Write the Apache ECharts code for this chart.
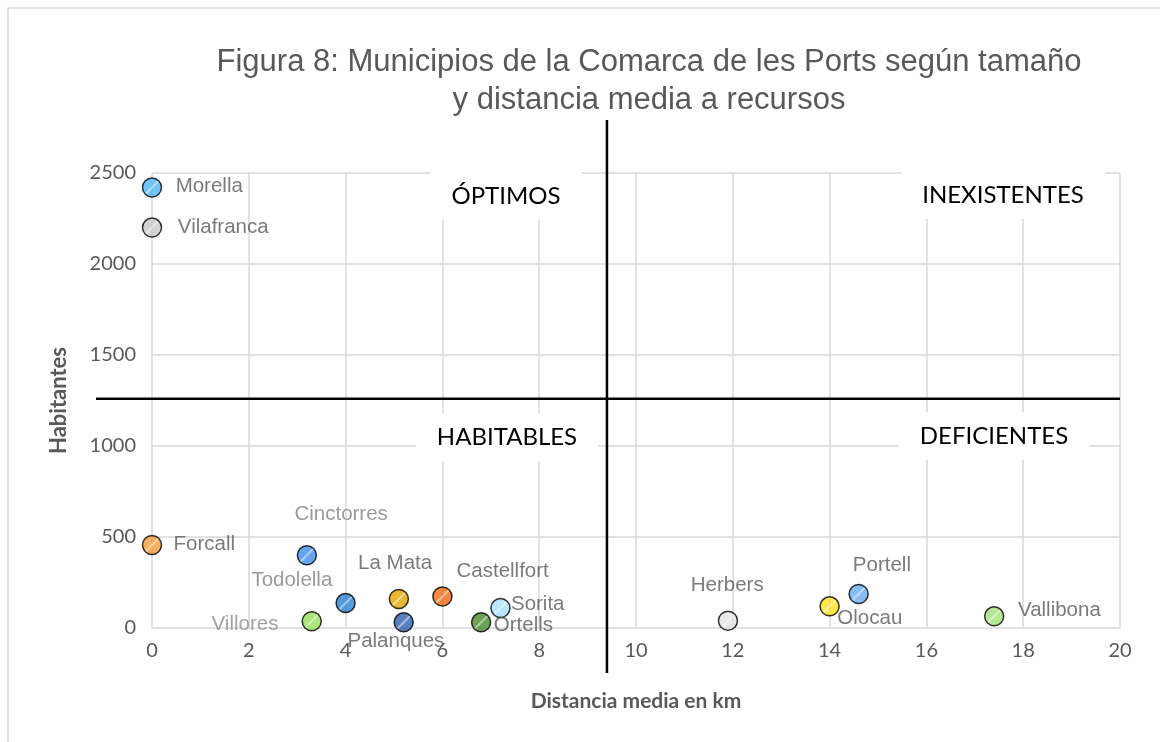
<!DOCTYPE html>
<html>
<head>
<meta charset="utf-8">
<title>Figura 8</title>
<script src="https://cdn.jsdelivr.net/npm/echarts@6.0.0/dist/echarts.min.js"></script>
<style>
  html, body { margin: 0; padding: 0; background: #fff; }
  #main { width: 1160px; height: 742px; }
</style>
</head>
<body>
<div id="main"></div>
<script>
// datos de los municipios
var municipios = ['Morella', 'Vilafranca', 'Forcall', 'Cinctorres', 'Todolella', 'Villores', 'La Mata',
    'Palanques', 'Castellfort', 'Ortells', 'Sorita', 'Herbers', 'Olocau', 'Portell', 'Vallibona'];
var distancia = [0, 0, 0, 3.2, 4.0, 3.3, 5.1, 5.2, 6.0, 6.8, 7.2, 11.9, 14.0, 14.6, 17.4];
var habitantes = [2420, 2200, 456, 400, 137, 37, 159, 31, 173, 31, 110, 40, 119, 187, 64];

// umbrales que separan los cuadrantes
var umbralX = 9.4;
var umbralY = 1260;

// estilos (colores y posicion de etiquetas)
var colores = ['#4db8f5', '#c8c8c8', '#f59a3c', '#3d8fea', '#2a80d0', '#95e05a', '#e2a600',
    '#2c5fac', '#ee6a12', '#4d8a2e', '#a8e0ff', '#e2e2e2', '#ffe020', '#6aacf0', '#a5e07a'];
var desplaz = [[58, 0], [72, 0], [53, 0], [35, -40], [-53, -22], [-66, 4], [-3, -35],
    [-7, 20], [61, -24], [43, 4], [38, -3], [0, -35], [41, 13], [24, -28], [66, -5]];
var colorEtiq = ['#595959', '#595959', '#595959', '#7f7f7f', '#7f7f7f', '#8c8c8c', '#595959',
    '#595959', '#595959', '#595959', '#595959', '#595959', '#595959', '#595959', '#595959'];

function aclarar(hex, f) {
    var r = parseInt(hex.substr(1, 2), 16), g = parseInt(hex.substr(3, 2), 16), b = parseInt(hex.substr(5, 2), 16);
    r = Math.round(r + (255 - r) * f); g = Math.round(g + (255 - g) * f); b = Math.round(b + (255 - b) * f);
    return 'rgb(' + r + ',' + g + ',' + b + ')';
}

var tam = 19;
var puntos = [];
for (var i = 0; i < municipios.length; i++) {
    puntos.push({
        name: municipios[i],
        value: [distancia[i], habitantes[i]],
        itemStyle: {
            color: new echarts.graphic.LinearGradient(0, 0, 1, 1, [
                { offset: 0, color: colores[i] },
                { offset: 0.44, color: colores[i] },
                { offset: 0.5, color: aclarar(colores[i], 0.55) },
                { offset: 0.56, color: colores[i] },
                { offset: 1, color: colores[i] }
            ])
        },
        label: {
            position: [tam / 2 + desplaz[i][0], tam / 2 + desplaz[i][1]],
            color: colorEtiq[i]
        }
    });
}

var myChart = echarts.init(document.getElementById('main'));
myChart.setOption({
    animation: false,
    title: {
        text: 'Figura 8: Municipios de la Comarca de les Ports según tamaño\ny distancia media a recursos',
        left: 644,
        top: 38,
        textAlign: 'center',
        textStyle: {
            fontFamily: 'Liberation Sans',
            fontSize: 31,
            fontWeight: 'normal',
            color: '#595959',
            lineHeight: 38
        }
    },
    grid: { left: 152, right: 40, top: 173, bottom: 114 },
    xAxis: {
        type: 'value',
        min: 0, max: 20, interval: 2,
        name: 'Distancia media en km',
        nameLocation: 'middle',
        nameGap: 63,
        nameTextStyle: { fontFamily: 'Lato', fontWeight: 'bold', fontSize: 21, color: '#595959' },
        axisLine: { show: false },
        axisTick: { show: false },
        axisLabel: { margin: 13, fontFamily: 'Lato', fontSize: 20, color: '#595959' },
        splitLine: { lineStyle: { color: '#d9d9d9', width: 1.5 } }
    },
    yAxis: {
        type: 'value',
        min: 0, max: 2500, interval: 500,
        name: 'Habitantes',
        nameLocation: 'middle',
        nameGap: 82,
        nameTextStyle: { fontFamily: 'Lato', fontWeight: 'bold', fontSize: 22, color: '#595959' },
        axisLine: { show: false },
        axisTick: { show: false },
        axisLabel: {
            margin: 16, fontFamily: 'Lato', fontSize: 20, color: '#595959',
            formatter: function (v) { return String(v); }
        },
        splitLine: { lineStyle: { color: '#d9d9d9', width: 1.5 } }
    },
    series: [{
        type: 'scatter',
        symbol: 'circle',
        symbolSize: tam,
        z: 5,
        itemStyle: { borderColor: '#000', borderWidth: 1.5 },
        label: {
            show: true,
            formatter: '{b}',
            align: 'center',
            verticalAlign: 'middle',
            fontFamily: 'Liberation Sans',
            fontSize: 20.5
        },
        data: puntos
    }]
});

// lineas de cuadrantes y rotulos
var px = myChart.convertToPixel({ gridIndex: 0 }, [umbralX, umbralY]);
var rotulo = function (texto, x, y) {
    return {
        type: 'text', x: x, y: y, z: 10,
        style: {
            text: texto, align: 'center', verticalAlign: 'middle',
            font: '24px Lato', fill: '#000',
            backgroundColor: '#fff', padding: [12, 21]
        }
    };
};
myChart.setOption({
    graphic: [
        { type: 'rect', shape: { x: 8, y: 8, width: 1200, height: 800 }, style: { fill: 'none', stroke: '#d9d9d9', lineWidth: 1.5 }, z: 1 },
        rotulo('ÓPTIMOS', 506, 196),
        rotulo('INEXISTENTES', 1003, 195),
        rotulo('HABITABLES', 507, 437),
        rotulo('DEFICIENTES', 994, 436),
        { type: 'line', z: 20, shape: { x1: px[0], y1: 120, x2: px[0], y2: 673 }, style: { stroke: '#000', lineWidth: 2.5 } },
        { type: 'line', z: 20, shape: { x1: 96, y1: px[1], x2: 1120, y2: px[1] }, style: { stroke: '#000', lineWidth: 2.5 } }
    ]
});
</script>
</body>
</html>
